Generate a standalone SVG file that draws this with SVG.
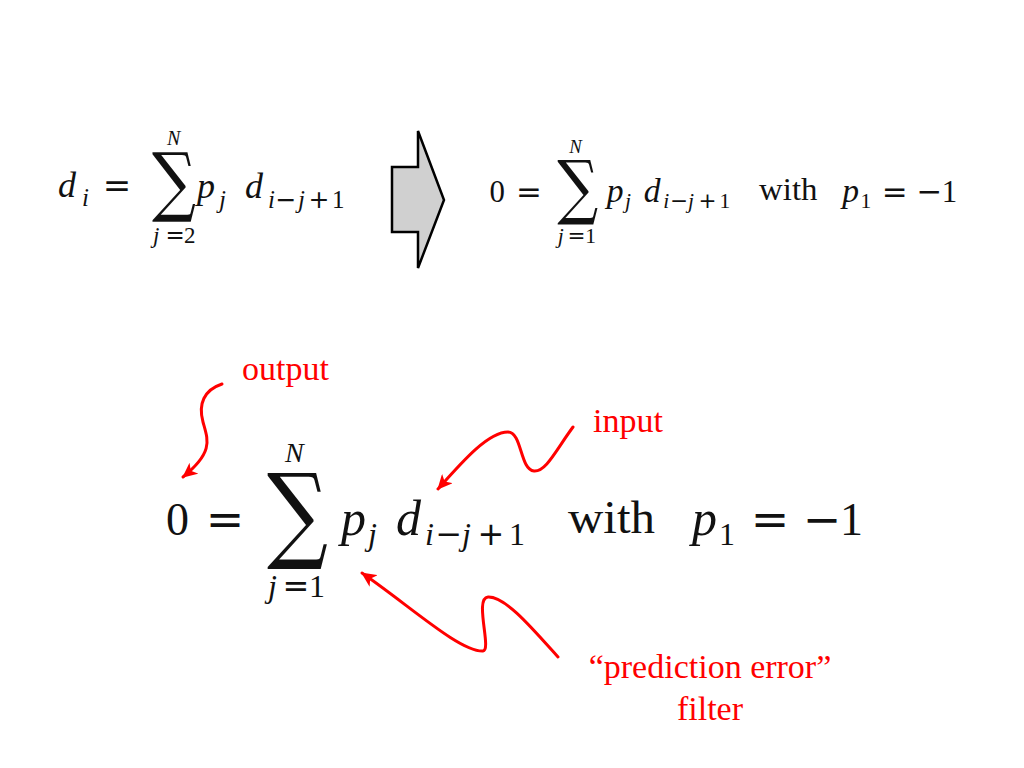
<svg xmlns="http://www.w3.org/2000/svg" width="1024" height="768" viewBox="0 0 1024 768">
<defs>
<style>
text{fill:#111}
.v{font-family:"Liberation Serif",serif;font-style:italic}
.n{font-family:"Liberation Serif",serif;font-style:normal}
.o{font-family:"DejaVu Sans",sans-serif;font-style:normal}
.s{font-family:"DejaVu Serif",serif;font-style:normal}
.lbl{font-family:"Liberation Serif",serif;font-size:34px;fill:#f00}
.red{fill:none;stroke:#f00;stroke-width:3;stroke-linecap:round}
</style>
<marker id="ah" markerWidth="16" markerHeight="14" refX="14" refY="7" orient="auto" markerUnits="userSpaceOnUse">
<path d="M0,0 L15,7 L0,14 L4,7 Z" fill="#f00"/>
</marker>
</defs>
<rect width="1024" height="768" fill="#fff"/>

<g id="eq-top-left">
<text class="n"><tspan class="v" x="58" y="197" font-size="36">d</tspan><tspan class="v" x="82" y="206" font-size="25">i</tspan><tspan class="o" x="102.8" y="197" font-size="34">=</tspan><tspan class="s" x="152" y="207" font-size="76" textLength="44" lengthAdjust="spacingAndGlyphs">∑</tspan><tspan class="v" x="167" y="145" font-size="20">N</tspan><tspan class="v" x="153" y="243" font-size="23">j</tspan><tspan class="o" x="165.4" y="243" font-size="23">=</tspan><tspan class="n" x="184" y="243" font-size="23">2</tspan><tspan class="v" x="197" y="198" font-size="36">p</tspan><tspan class="v" x="219" y="208" font-size="25">j</tspan><tspan class="v" x="245" y="198" font-size="36">d</tspan><tspan class="v" x="268" y="208" font-size="25">i</tspan><tspan class="o" x="275.5" y="208" font-size="25">−</tspan><tspan class="v" x="298" y="208" font-size="25">j</tspan><tspan class="o" x="308.5" y="208" font-size="25">+</tspan><tspan class="n" x="332" y="208" font-size="25">1</tspan></text>
</g>

<g id="block-arrow">
<polygon points="392,167 418,167 418,131 444,200 418,268 418,232 392,232" fill="#d0d0d0" stroke="#000" stroke-width="2.5" stroke-linejoin="miter"/>
</g>

<g id="eq-top-right" transform="translate(378,-157.3) scale(0.671)">
<text class="n"><tspan class="n" x="166" y="535" font-size="46">0</tspan><tspan class="o" x="205.7" y="535" font-size="46">=</tspan><tspan class="s" x="267" y="549" font-size="106" textLength="61" lengthAdjust="spacingAndGlyphs">∑</tspan><tspan class="v" x="285" y="462" font-size="28">N</tspan><tspan class="v" x="268" y="597" font-size="32">j</tspan><tspan class="o" x="282.6" y="597" font-size="32">=</tspan><tspan class="n" x="309" y="597" font-size="32">1</tspan><tspan class="v" x="341" y="535" font-size="50">p</tspan><tspan class="v" x="368" y="545" font-size="32">j</tspan><tspan class="v" x="396" y="535" font-size="50">d</tspan><tspan class="v" x="425" y="545" font-size="32">i</tspan><tspan class="o" x="435.6" y="545" font-size="32">−</tspan><tspan class="v" x="462" y="545" font-size="32">j</tspan><tspan class="o" x="477.6" y="545" font-size="32">+</tspan><tspan class="n" x="509" y="545" font-size="32">1</tspan><tspan class="n" x="568" y="533" font-size="46" textLength="87" lengthAdjust="spacingAndGlyphs">with</tspan><tspan class="v" x="692" y="535" font-size="50">p</tspan><tspan class="n" x="719" y="545" font-size="32">1</tspan><tspan class="o" x="750.7" y="535" font-size="46">=</tspan><tspan class="o" x="802.7" y="535" font-size="46">−</tspan><tspan class="n" x="840" y="535" font-size="46">1</tspan></text>
</g>

<g id="eq-bottom">
<text class="n"><tspan class="n" x="166" y="535" font-size="46">0</tspan><tspan class="o" x="205.7" y="535" font-size="46">=</tspan><tspan class="s" x="267" y="549" font-size="106" textLength="61" lengthAdjust="spacingAndGlyphs">∑</tspan><tspan class="v" x="285" y="462" font-size="28">N</tspan><tspan class="v" x="268" y="597" font-size="32">j</tspan><tspan class="o" x="282.6" y="597" font-size="32">=</tspan><tspan class="n" x="309" y="597" font-size="32">1</tspan><tspan class="v" x="341" y="535" font-size="50">p</tspan><tspan class="v" x="368" y="545" font-size="32">j</tspan><tspan class="v" x="396" y="535" font-size="50">d</tspan><tspan class="v" x="425" y="545" font-size="32">i</tspan><tspan class="o" x="435.6" y="545" font-size="32">−</tspan><tspan class="v" x="462" y="545" font-size="32">j</tspan><tspan class="o" x="477.6" y="545" font-size="32">+</tspan><tspan class="n" x="509" y="545" font-size="32">1</tspan><tspan class="n" x="568" y="533" font-size="46" textLength="87" lengthAdjust="spacingAndGlyphs">with</tspan><tspan class="v" x="692" y="535" font-size="50">p</tspan><tspan class="n" x="719" y="545" font-size="32">1</tspan><tspan class="o" x="750.7" y="535" font-size="46">=</tspan><tspan class="o" x="802.7" y="535" font-size="46">−</tspan><tspan class="n" x="840" y="535" font-size="46">1</tspan></text>
</g>

<g id="label-output"><text class="lbl" x="242" y="380">output</text></g>
<g id="label-input"><text class="lbl" x="593" y="432">input</text></g>
<g id="label-filter">
<text class="lbl" x="710" y="678" text-anchor="middle">“prediction error”</text>
<text class="lbl" x="710" y="720" text-anchor="middle">filter</text>
</g>

<g id="connectors">
<path class="red" d="M222,384 C204,390 198,404 203,422 C208,440 214,452 183,477" marker-end="url(#ah)"/>
<path class="red" d="M573,427 C556,450 546,472 534,471 C520,470 522,432 508,432 C488,432 462,462 438,489" marker-end="url(#ah)"/>
<path class="red" d="M558,657 C532,628 505,596 488,597 C474,598 492,650 483,651 C460,652 410,606 362,573" marker-end="url(#ah)"/>
</g>
</svg>
